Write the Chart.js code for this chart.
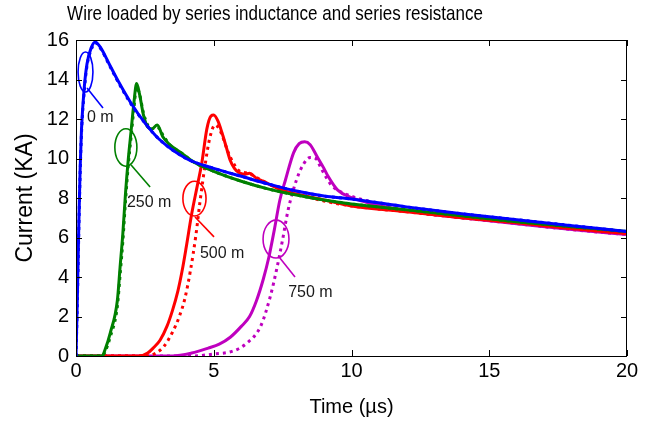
<!DOCTYPE html>
<html>
<head>
<meta charset="utf-8">
<script src="https://cdn.jsdelivr.net/npm/chart.js@4/dist/chart.umd.min.js"></script>
<style>
  body { margin: 0; background: #fff; }
  #wrap { width: 661px; height: 432px; }
</style>
</head>
<body>
<div id="wrap"><canvas id="c" width="661" height="432"></canvas></div>
<script>
const chartTitle = 'Wire loaded by series inductance and series resistance';

// axis ticks
const xTicks = [0, 5, 10, 15, 20];
const yTicks = [0, 2, 4, 6, 8, 10, 12, 14, 16];

// 0 m  (blue)
const blueT      = [0, 0.05, 0.1, 0.15, 0.2, 0.3, 0.4, 0.55, 0.7, 0.9, 1.2, 1.5, 2.0, 2.5, 3.0, 4.0, 5.0, 6.0, 7.0, 8.0, 9.0, 10, 12, 14, 16, 18, 20];
const blueSolid  = [0, 3, 6.5, 9.5, 11.5, 13.6, 14.8, 15.6, 15.9, 15.6, 14.8, 14.0, 12.8, 11.8, 11.0, 10.0, 9.5, 9.1, 8.7, 8.35, 8.1, 7.95, 7.55, 7.2, 6.9, 6.6, 6.3];
const blueDotted = [0, 2.8, 6.2, 9.2, 11.3, 13.4, 14.7, 15.5, 15.85, 15.55, 14.75, 13.95, 12.75, 11.8, 11.0, 10.0, 9.5, 9.1, 8.7, 8.35, 8.1, 7.95, 7.55, 7.2, 6.9, 6.6, 6.3];

// 250 m (green)
const greenT      = [0, 0.95, 1.05, 1.25, 1.5, 1.6, 1.7, 1.8, 1.9, 2.0, 2.1, 2.2, 2.3, 2.45, 2.6, 2.75, 2.95, 3.15, 3.4, 3.8, 4.3, 5, 6, 7, 8, 9, 10, 12, 14, 16, 18, 20];
const greenSolid  = [0, 0, 0.3, 1.2, 2.8, 4.5, 6.2, 8.3, 10.0, 11.4, 12.8, 13.8, 13.3, 12.2, 11.6, 11.5, 11.7, 11.1, 10.7, 10.3, 9.8, 9.35, 8.85, 8.45, 8.15, 7.9, 7.7, 7.4, 7.1, 6.8, 6.55, 6.3];
const greenDotted = [0, 0, 0.2, 1.0, 2.5, 4.1, 5.8, 7.9, 9.7, 11.1, 12.5, 13.6, 13.3, 12.3, 11.7, 11.5, 11.6, 11.2, 10.7, 10.3, 9.8, 9.35, 8.85, 8.45, 8.15, 7.9, 7.7, 7.4, 7.1, 6.8, 6.55, 6.3];

// 500 m (red)
const redSolidT = [0, 2.3, 2.6, 2.8, 3.05, 3.3, 3.5, 3.7, 3.85, 4.0, 4.2, 4.4, 4.57, 4.75, 4.9, 5.0, 5.15, 5.3, 5.45, 5.6, 5.75, 5.9, 6.1, 6.3, 6.55, 6.8, 7.3, 8, 9, 10, 12, 14, 16, 18, 20];
const redSolid  = [0, 0, 0.15, 0.4, 0.8, 1.5, 2.3, 3.3, 4.3, 5.5, 7.2, 8.6, 9.8, 11.5, 12.15, 12.2, 11.9, 11.3, 10.6, 9.9, 9.5, 9.3, 9.2, 9.25, 9.0, 8.85, 8.5, 8.2, 7.9, 7.6, 7.3, 7.0, 6.75, 6.45, 6.2];
const redDottedT = [0, 2.6, 2.9, 3.2, 3.5, 3.75, 3.95, 4.15, 4.35, 4.5, 4.7, 4.85, 5.05, 5.2, 5.35, 5.5, 5.7, 5.9, 6.1, 6.35, 6.6, 7.0, 7.5, 8, 9, 10, 12, 14, 16, 18, 20];
const redDotted  = [0, 0, 0.15, 0.5, 1.2, 2.0, 2.9, 4.3, 6.1, 7.8, 9.8, 11.0, 11.7, 11.5, 11.0, 10.4, 9.8, 9.4, 9.3, 9.2, 9.0, 8.7, 8.4, 8.2, 7.85, 7.6, 7.3, 7.0, 6.75, 6.45, 6.2];

// 750 m (magenta)
const magSolidT = [0, 3.5, 4.2, 4.8, 5.2, 5.6, 6.0, 6.3, 6.55, 6.8, 7.0, 7.2, 7.4, 7.6, 7.9, 8.1, 8.3, 8.5, 8.75, 9.0, 9.15, 9.5, 9.95, 10.5, 12, 14, 16, 18, 20];
const magSolid  = [0, 0, 0.15, 0.4, 0.6, 0.95, 1.5, 2.0, 2.8, 3.9, 5.0, 6.4, 7.9, 8.9, 10.3, 10.75, 10.85, 10.7, 10.1, 9.5, 9.1, 8.4, 8.05, 7.8, 7.35, 7.0, 6.7, 6.4, 6.15];
const magDottedT = [0, 4.2, 5.0, 5.7, 6.2, 6.7, 7.05, 7.3, 7.5, 7.7, 8.0, 8.25, 8.5, 8.7, 8.9, 9.1, 9.3, 9.7, 10.2, 11, 12, 14, 16, 18, 20];
const magDotted  = [0, 0, 0.1, 0.25, 0.65, 1.5, 3.0, 4.5, 5.9, 7.4, 8.9, 9.7, 10.05, 10.0, 9.5, 9.0, 8.6, 8.25, 8.0, 7.7, 7.35, 7.0, 6.7, 6.4, 6.15];

// annotation labels
const annoLabels = ['0 m', '250 m', '500 m', '750 m'];

function pts(ts, vs) {
    return ts.map((t, i) => ({ x: t, y: vs[i] }));
}

const BLUE = '#0000ff', GREEN = '#008000', RED = '#ff0000', MAG = '#bf00bf';
const FONT = '"Liberation Sans", Arial, sans-serif';

function series(label, ts, vs, color, dotted, order) {
    return {
        label: label,
        data: pts(ts, vs),
        borderColor: color,
        borderWidth: 3,
        borderDash: dotted ? [3, 4] : [],
        borderCapStyle: 'butt',
        pointRadius: 0,
        cubicInterpolationMode: 'monotone',
        order: order
    };
}

// annotation geometry in data units: ellipse centre/radii, pointer line, label anchor
const annoGeom = [
    { color: BLUE,  cx: 0.345, cy: 14.38, rx: 0.27, ry: 1.01, l: [0.40, 13.57, 0.98, 12.56], tx: 0.40, ty: 12.05 },
    { color: GREEN, cx: 1.81,  cy: 10.56, rx: 0.40, ry: 0.95, l: [2.00, 9.67, 2.69, 8.56],   tx: 1.85, ty: 7.75 },
    { color: RED,   cx: 4.30,  cy: 7.97,  rx: 0.42, ry: 0.88, l: [4.32, 7.04, 5.01, 6.03],   tx: 4.50, ty: 5.20 },
    { color: MAG,   cx: 7.26,  cy: 5.92,  rx: 0.47, ry: 0.96, l: [7.40, 4.96, 7.95, 4.00],   tx: 7.70, ty: 3.19 }
];

const matlabBox = {
    id: 'matlabBox',
    afterDraw(chart) {
        const { ctx } = chart;
        // title, slightly stretched vertically like the original
        ctx.save();
        ctx.fillStyle = '#000';
        ctx.font = '17px ' + FONT;
        ctx.textAlign = 'center';
        ctx.textBaseline = 'middle';
        ctx.translate(275, 14);
        ctx.scale(1, 1.22);
        ctx.fillText(chartTitle, 0, 0);
        ctx.restore();
    },
    afterDatasetsDraw(chart) {
        const { ctx, chartArea: a, scales: { x, y } } = chart;
        ctx.save();
        annoGeom.forEach((g, i) => {
            const cx = x.getPixelForValue(g.cx), cy = y.getPixelForValue(g.cy);
            const rx = x.getPixelForValue(g.cx + g.rx) - cx;
            const ry = cy - y.getPixelForValue(g.cy + g.ry);
            ctx.strokeStyle = g.color;
            ctx.lineWidth = 1.6;
            ctx.setLineDash([]);
            ctx.beginPath();
            ctx.ellipse(cx, cy, rx, ry, 0, 0, Math.PI * 2);
            ctx.stroke();
            ctx.beginPath();
            ctx.moveTo(x.getPixelForValue(g.l[0]), y.getPixelForValue(g.l[1]));
            ctx.lineTo(x.getPixelForValue(g.l[2]), y.getPixelForValue(g.l[3]));
            ctx.stroke();
            ctx.fillStyle = '#1a1a1a';
            ctx.font = '16px ' + FONT;
            ctx.textAlign = 'left';
            ctx.textBaseline = 'middle';
            ctx.fillText(annoLabels[i], x.getPixelForValue(g.tx), y.getPixelForValue(g.ty));
        });
        // box and inward ticks
        ctx.strokeStyle = '#000';
        ctx.lineWidth = 1;
        ctx.strokeRect(a.left + 0.5, a.top + 0.5, a.right - a.left - 1, a.bottom - a.top);
        ctx.beginPath();
        const tl = 6;
        xTicks.forEach(v => {
            const px = Math.round(x.getPixelForValue(v)) + 0.5;
            ctx.moveTo(px, a.bottom); ctx.lineTo(px, a.bottom - tl);
            ctx.moveTo(px, a.top); ctx.lineTo(px, a.top + tl);
        });
        yTicks.forEach(v => {
            const py = Math.round(y.getPixelForValue(v)) + 0.5;
            ctx.moveTo(a.left, py); ctx.lineTo(a.left + tl, py);
            ctx.moveTo(a.right, py); ctx.lineTo(a.right - tl, py);
        });
        ctx.stroke();
        ctx.restore();
    }
};

new Chart(document.getElementById('c'), {
    type: 'line',
    data: {
        datasets: [
            series('0 m', blueT, blueSolid, BLUE, false, 1),
            series('0 m dotted', blueT, blueDotted, BLUE, true, 0),
            series('250 m', greenT, greenSolid, GREEN, false, 3),
            series('250 m dotted', greenT, greenDotted, GREEN, true, 2),
            series('500 m', redSolidT, redSolid, RED, false, 5),
            series('500 m dotted', redDottedT, redDotted, RED, true, 4),
            series('750 m', magSolidT, magSolid, MAG, false, 7),
            series('750 m dotted', magDottedT, magDotted, MAG, true, 6)
        ]
    },
    options: {
        responsive: false,
        animation: false,
        devicePixelRatio: 1,
        layout: { padding: { left: 0, right: 34, top: 40, bottom: 0 } },
        plugins: {
            legend: { display: false },
            tooltip: { enabled: false },
            title: { display: false }
        },
        scales: {
            x: {
                type: 'linear',
                min: 0, max: 20,
                afterBuildTicks(s) { s.ticks = xTicks.map(v => ({ value: v })); },
                afterFit(s) { s.height = 76; },
                grid: { display: false, drawTicks: false },
                border: { display: false },
                ticks: { color: '#000', padding: 3, font: { family: FONT, size: 20 }, maxRotation: 0 },
                title: {
                    display: true, text: 'Time (µs)', color: '#000',
                    font: { family: FONT, size: 20 }, padding: { top: 0, bottom: 13 }
                }
            },
            y: {
                min: 0, max: 16,
                afterBuildTicks(s) { s.ticks = yTicks.map(v => ({ value: v })); },
                afterFit(s) { s.width = 76; },
                grid: { display: false, drawTicks: false },
                border: { display: false },
                ticks: { color: '#000', padding: 7, font: { family: FONT, size: 20 } },
                title: {
                    display: true, text: 'Current (KA)', color: '#000',
                    font: { family: FONT, size: 23 }, padding: { top: 12, bottom: 0 }
                }
            }
        }
    },
    plugins: [matlabBox]
});
</script>
</body>
</html>
